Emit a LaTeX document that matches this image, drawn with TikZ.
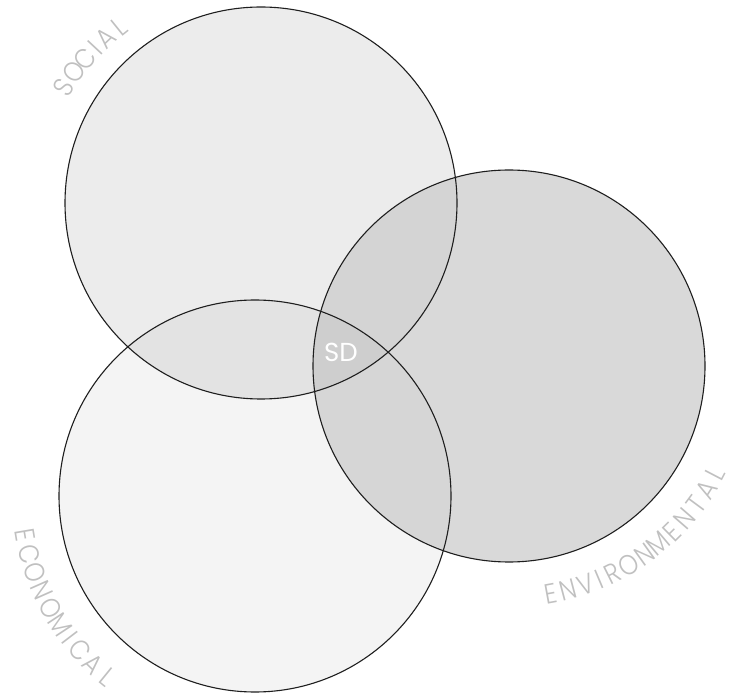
\documentclass[tikz,border=0pt]{standalone}
\usepackage{graphicx}
\usepackage{fontspec}
\newfontfamily\labelfont{Poppins Light}
\newfontfamily\sdfont{Poppins}
\definecolor{labelgray}{RGB}{192,192,192}
\definecolor{rimcol}{RGB}{30,30,30}
\definecolor{socgray}{RGB}{236,236,236}
\definecolor{ecogray}{RGB}{244,244,244}
\definecolor{envgray}{RGB}{217,217,217}
\definecolor{segray}{RGB}{227,227,227}
\definecolor{svgray}{RGB}{212,212,212}
\definecolor{evgray}{RGB}{214,214,214}
\definecolor{allgray}{RGB}{206,206,206}
\newcommand\labfont{\labelfont\fontsize{28}{28}\selectfont}
\newcommand\labglyph[1]{\scalebox{0.88}[1]{\labfont #1}}
\newlength\chw
\def\awItest{I}
% effective width of a letter: its measured width, narrower for I
\newcommand\awmeasure{%
  \settowidth\chw{\labglyph{\c}}%
  \edef\awCur{\c}%
  \ifx\awCur\awItest \addtolength\chw{-7pt}\fi
}
% \arcword{center}{first angle}{last angle}{r first}{r last}{rotation offset}{name prefix}{letters}
\newcommand\arcword[8]{%
  \gdef\awW{0}\gdef\awN{0}\gdef\awLast{0}\gdef\awFirst{0}%
  \foreach \c [count=\k] in {#8}{%
    \awmeasure
    \pgfmathsetmacro\awTmp{\awW+\chw}\xdef\awW{\awTmp}%
    \xdef\awN{\k}%
    \pgfmathsetmacro\awTmp{\chw}\xdef\awLast{\awTmp}%
    \ifnum\k=1 \xdef\awFirst{\awTmp}\fi
  }%
  \pgfmathsetmacro\awL{((#4)+(#5))/2*(abs((#3)-(#2))/180*pi)}%
  \pgfmathsetmacro\awG{(\awL-(\awW-(\awFirst+\awLast)/2))/(\awN-1)}%
  \gdef\awS{0}\gdef\awPrev{0}%
  \foreach \c [count=\k] in {#8}{%
    \awmeasure
    \pgfmathsetmacro\awCw{\chw}%
    \ifnum\k>1 \pgfmathsetmacro\awTmp{\awS+(\awPrev+\awCw)/2+\awG}\xdef\awS{\awTmp}\fi
    \xdef\awPrev{\awCw}%
    \pgfmathsetmacro\awT{\awS/\awL}%
    \pgfmathsetmacro\awA{(#2)+((#3)-(#2))*\awT}%
    \pgfmathsetmacro\awR{(#4)+((#5)-(#4))*\awT}%
    \pgfmathsetmacro\awRot{\awA+(#6)}%
    \node[lettr, rotate=\awRot] (#7-\k) at ([shift={(\awA:\awR pt)}]#1) {\labglyph{\c}};
  }%
}
\tikzset{
  ring/.style={draw=rimcol, line width=1.1pt},
  lettr/.style={inner sep=0pt, text=labelgray, anchor=center}
}
\begin{document}
\begin{tikzpicture}[x=1pt,y=1pt]
\useasboundingbox (0,0) rectangle (734,697);
\coordinate (soc) at (261,494);
\coordinate (env) at (509,331);
\coordinate (eco) at (255,201);
% single fills
\fill[socgray] (soc) circle[radius=196pt];
\fill[ecogray] (eco) circle[radius=196pt];
\fill[envgray] (env) circle[radius=196pt];
% pairwise overlaps
\begin{scope}
  \clip (soc) circle[radius=196pt];
  \fill[segray] (eco) circle[radius=196pt];
  \fill[svgray] (env) circle[radius=196pt];
\end{scope}
\begin{scope}
  \clip (eco) circle[radius=196pt];
  \fill[evgray] (env) circle[radius=196pt];
\end{scope}
\begin{scope}
  \clip (soc) circle[radius=196pt];
  \clip (eco) circle[radius=196pt];
  \fill[allgray] (env) circle[radius=196pt];
\end{scope}
% outlines
\draw[ring] (soc) circle[radius=196pt];
\draw[ring] (env) circle[radius=196pt];
\draw[ring] (eco) circle[radius=196pt];
% labels
\arcword{soc}{149.5}{128.9}{228.6}{226}{-90}{social}{S,O,C,I,A,L}
\arcword{eco}{189.6}{230.9}{233.3}{233.2}{90}{econ}{E,C,O,N,O,M,I,C,A,L}
\arcword{env}{-79.6}{-27.5}{231.8}{233}{90}{envi}{E,N,V,I,R,O,N,M,E,N,T,A,L}
\node[text=white, font=\sdfont\fontsize{26}{26}\selectfont, inner sep=0pt] (sd) at (341,345) {SD};
\end{tikzpicture}
\end{document}
